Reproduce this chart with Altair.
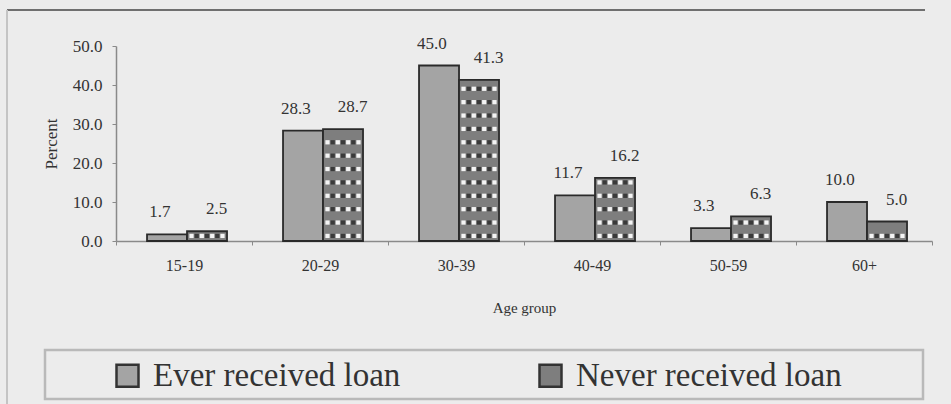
import altair as alt
import numpy as np
import pandas as pd

# Share of respondents by age group and loan status (percent)
age_groups = ["15-19", "20-29", "30-39", "40-49", "50-59", "60+"]
ever_received = [1.7, 28.3, 45.0, 11.7, 3.3, 10.0]
never_received = [2.5, 28.7, 41.3, 16.2, 6.3, 5.0]
series_names = ["Ever received loan", "Never received loan"]
y_ticks = [0, 10, 20, 30, 40, 50]

SERIF = "Liberation Serif"
INK = "#333333"

rows = []
for g, e, n in zip(age_groups, ever_received, never_received):
    rows.append({"age": g, "series": series_names[0], "pct": e})
    rows.append({"age": g, "series": series_names[1], "pct": n})
bars_df = pd.DataFrame(rows)

# checker fill inside the "never received" bars: light and dark squares
# alternating across each row, rows stacked up to the bar top
checker_cols = [(-15.5, "#f4f4f4"), (-10.3, "#3a3a3a"), (-5.2, "#f4f4f4"),
                (0.0, "#3a3a3a"), (5.2, "#f4f4f4"), (10.3, "#3a3a3a"),
                (15.5, "#f4f4f4")]
NEVER_CENTER = 91  # bar centre measured from the start of its age-group band, px
pattern_rows = []
for g, n in zip(age_groups, never_received):
    for level in np.arange(1.3, 60, 3.43):
        if level > n - 1.0:
            break
        for dx, shade in checker_cols:
            pattern_rows.append(
                {"age": g, "pct": float(level), "px": NEVER_CENTER + dx, "shade": shade}
            )
pattern_df = pd.DataFrame(pattern_rows)

x_enc = alt.X(
    "age:N",
    sort=age_groups,
    scale=alt.Scale(paddingInner=0, paddingOuter=0),
    axis=alt.Axis(
        title="Age group",
        labelAngle=0,
        tickBand="extent",
        tickSize=4,
        labelPadding=12,
        titlePadding=27,
        labelFontSize=16,
        titleFontSize=15,
    ),
)
xoff_enc = alt.XOffset(
    "series:N",
    sort=series_names,
    scale=alt.Scale(domain=series_names, paddingInner=0, paddingOuter=0.7, align=0.554),
)
y_enc = alt.Y(
    "pct:Q",
    scale=alt.Scale(domain=[0, 50], nice=False),
    axis=alt.Axis(
        title="Percent",
        values=y_ticks,
        format=".1f",
        tickSize=4,
        labelPadding=10,
        titlePadding=12,
        labelFontSize=17,
        titleFontSize=17,
        grid=False,
    ),
)

bars = alt.Chart(bars_df).mark_bar(stroke="#2a2a2a", strokeWidth=1.8).encode(
    x=x_enc,
    xOffset=xoff_enc,
    y=y_enc,
    color=alt.Color(
        "series:N",
        scale=alt.Scale(domain=series_names, range=["#a4a4a4", "#7e7e7e"]),
        legend=alt.Legend(
            orient="none",
            legendX=-5,
            legendY=313,
            direction="horizontal",
            title=None,
            symbolType="square",
            symbolSize=484,
            symbolStrokeColor="#333333",
            symbolStrokeWidth=2.5,
            symbolOpacity=1,
            labelFont=SERIF,
            labelFontSize=33,
            labelColor=INK,
            labelOffset=9,
            labelLimit=500,
            columnPadding=133,
            padding=0,
        ),
    ),
)

checker = alt.Chart(pattern_df).mark_square(size=18, opacity=1).encode(
    x=x_enc,
    xOffset=alt.XOffset("px:Q", scale=alt.Scale(domain=[0, 136], range=[0, 136])),
    y=y_enc,
    color=alt.Color("shade:N", scale=None),
)

labels = alt.Chart(bars_df).mark_text(
    dy=-22, fontSize=17, font=SERIF, color=INK
).encode(
    x=x_enc,
    xOffset=xoff_enc,
    y=y_enc,
    text=alt.Text("pct:Q", format=".1f"),
)

one = alt.Data(values=[{"k": 0}])

top_rule = alt.Chart(one).mark_rule(color="#6f6f6f", strokeWidth=2).encode(
    x=alt.value(-109), x2=alt.value(809), y=alt.value(-36)
)
left_rule = alt.Chart(one).mark_rule(color="#c4c4c4", strokeWidth=2).encode(
    x=alt.value(-109), y=alt.value(-36), y2=alt.value(360)
)
legend_box = alt.Chart(one).mark_rect(
    fill="#ececec", fillOpacity=0, stroke="#b9b9b9", strokeWidth=2.5
).encode(
    x=alt.value(-71), x2=alt.value(807), y=alt.value(304), y2=alt.value(353)
)

chart = alt.layer(
    top_rule, left_rule, legend_box, bars, labels, checker
).resolve_scale(
    xOffset="independent"
).properties(
    width=816,
    height=195,
    autosize=alt.AutoSizeParams(type="none"),
    padding={"left": 116, "top": 46, "right": 19, "bottom": 163},
    background="#ececec",
).configure_view(
    stroke=None
).configure_axis(
    labelFont=SERIF,
    titleFont=SERIF,
    labelColor=INK,
    titleColor=INK,
    titleFontWeight="normal",
    domainColor="#8a8a8a",
    tickColor="#8a8a8a",
    domainWidth=1.5,
)

chart.save("out.html", embed_options={"renderer": "svg", "actions": False})
